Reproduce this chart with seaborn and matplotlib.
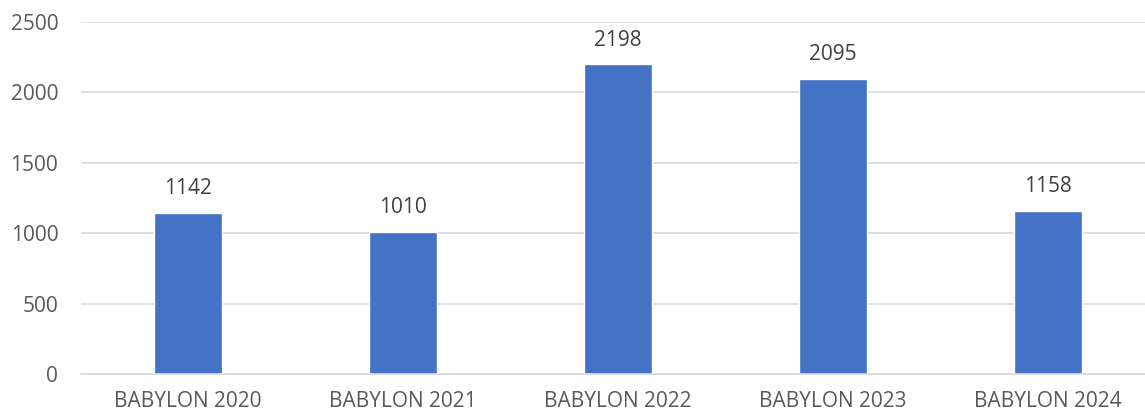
import matplotlib
matplotlib.use("Agg")
import matplotlib.pyplot as plt
import seaborn as sns
import pandas as pd

categories = ["BABYLON 2020", "BABYLON 2021", "BABYLON 2022", "BABYLON 2023", "BABYLON 2024"]
values = [1142, 1010, 2198, 2095, 1158]
yticks = [0, 500, 1000, 1500, 2000, 2500]

sns.set_theme(style="white")
plt.rcParams['font.family'] = ['Open Sans', 'DejaVu Sans']

df = pd.DataFrame({"cat": categories, "val": values})

fig = plt.figure(figsize=(11.45, 4.13), dpi=100)
# plot area runs a little past the right edge, as in the reference crop
ax = fig.add_axes([80.5 / 1145, 0.094, 1075 / 1145, 0.853])
sns.barplot(data=df, x="cat", y="val", color="#4472C4", width=0.316, ax=ax, saturation=1)

ax.set_ylim(0, 2500)
ax.set_xlim(-0.5, 4.5)
ax.set_yticks(yticks)
ax.yaxis.grid(True, color="#D9D9D9", linewidth=1.2)
ax.set_axisbelow(True)
for s in ["top", "right", "left"]:
    ax.spines[s].set_visible(False)
ax.spines["bottom"].set_color("#D9D9D9")
ax.spines["bottom"].set_linewidth(1.2)
ax.tick_params(axis="both", length=0, labelsize=15, labelcolor="#595959")
ax.tick_params(axis="y", pad=16)
ax.tick_params(axis="x", pad=12)
ax.set_xlabel("")
ax.set_ylabel("")

for i, v in enumerate(values):
    ax.annotate(str(v), (i, v), xytext=(0, 10), textcoords="offset points",
                ha="center", va="bottom", fontsize=15, color="#404040")

fig.savefig("out.png", dpi=100)
